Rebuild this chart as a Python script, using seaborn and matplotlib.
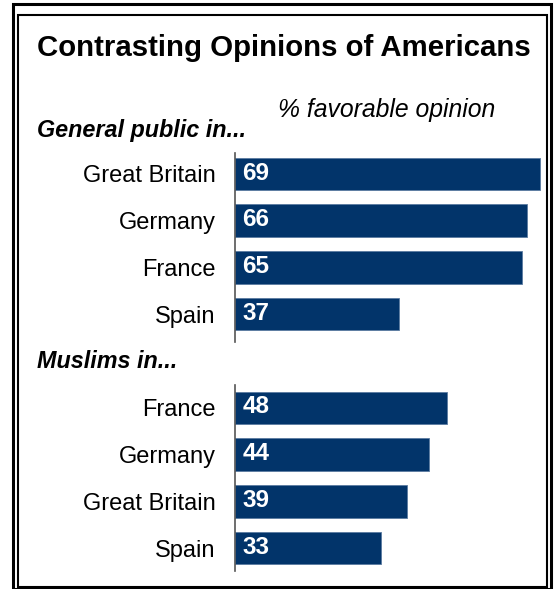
import matplotlib
matplotlib.use('Agg')
import matplotlib.pyplot as plt
from matplotlib.patches import Rectangle
import seaborn as sns
import pandas as pd

# values (% favorable opinion of Americans)
public_countries = ['Great Britain', 'Germany', 'France', 'Spain']
public_values = [69, 66, 65, 37]
muslim_countries = ['France', 'Germany', 'Great Britain', 'Spain']
muslim_values = [48, 44, 39, 33]

title = 'Contrasting Opinions of Americans'
subtitle = '% favorable opinion'
group_labels = ['General public in...', 'Muslims in...']

bar_color = '#02346a'

sns.set_theme(style='white')
plt.rcParams['font.family'] = ['Liberation Sans', 'DejaVu Sans']
plt.rcParams['text.color'] = 'black'

fig = plt.figure(figsize=(5.55, 5.89), dpi=100)
W, H = 555.0, 589.0

def px_axes(left, top, right, bottom):
    # pixel box -> figure fraction axes
    return fig.add_axes([left / W, 1 - bottom / H, (right - left) / W, (bottom - top) / H])

ax_top = px_axes(235, 153, 235 + 70 * 4.42, 342)
ax_bot = px_axes(235, 385, 235 + 70 * 4.42, 571)

for ax, cats, vals, ylim in [(ax_top, public_countries, public_values, (3.6, -0.45)),
                             (ax_bot, muslim_countries, muslim_values, (3.49, -0.49))]:
    df = pd.DataFrame({'country': cats, 'value': vals})
    sns.barplot(data=df, x='value', y='country', color=bar_color, width=0.7,
                saturation=1, edgecolor='#5a7aa0', linewidth=0.6, ax=ax)
    ax.set_xlim(0, 70)
    ax.set_ylim(*ylim)
    ax.set_xlabel('')
    ax.set_ylabel('')
    ax.set_xticks([])
    ax.tick_params(axis='y', length=0, pad=14, labelsize=17, labelcolor='black')
    for s in ['top', 'right', 'bottom']:
        ax.spines[s].set_visible(False)
    ax.spines['left'].set_color('#555555')
    ax.spines['left'].set_linewidth(1.2)
    ax.patch.set_alpha(0)
    for i, v in enumerate(vals):
        ax.text(1.7, i - 0.02, str(v), color='white', fontweight='bold', fontsize=17.5,
                va='center', ha='left')

fig.text(37 / W, 1 - 48 / H, title, fontsize=21.2, fontweight='bold', ha='left', va='center')
fig.text(278 / W, 1 - 110 / H, subtitle, fontsize=17.8, fontstyle='italic', ha='left', va='center')
fig.text(37 / W, 1 - 131 / H, group_labels[0], fontsize=16.8, fontweight='bold',
         fontstyle='italic', ha='left', va='center')
fig.text(37 / W, 1 - 362 / H, group_labels[1], fontsize=16.8, fontweight='bold',
         fontstyle='italic', ha='left', va='center')

# double frame around the graphic
fig.patches.append(Rectangle((13 / W, 0 / H), 538 / W, 1 - 10 / H + 0.01, transform=fig.transFigure,
                             fill=False, edgecolor='black', linewidth=2.2, clip_on=False))
fig.patches.append(Rectangle((18 / W, 1 - 587 / H), 529 / W, 572 / H, transform=fig.transFigure,
                             fill=False, edgecolor='black', linewidth=1.5, clip_on=False))

fig.savefig('out.png', dpi=100, facecolor='white')
